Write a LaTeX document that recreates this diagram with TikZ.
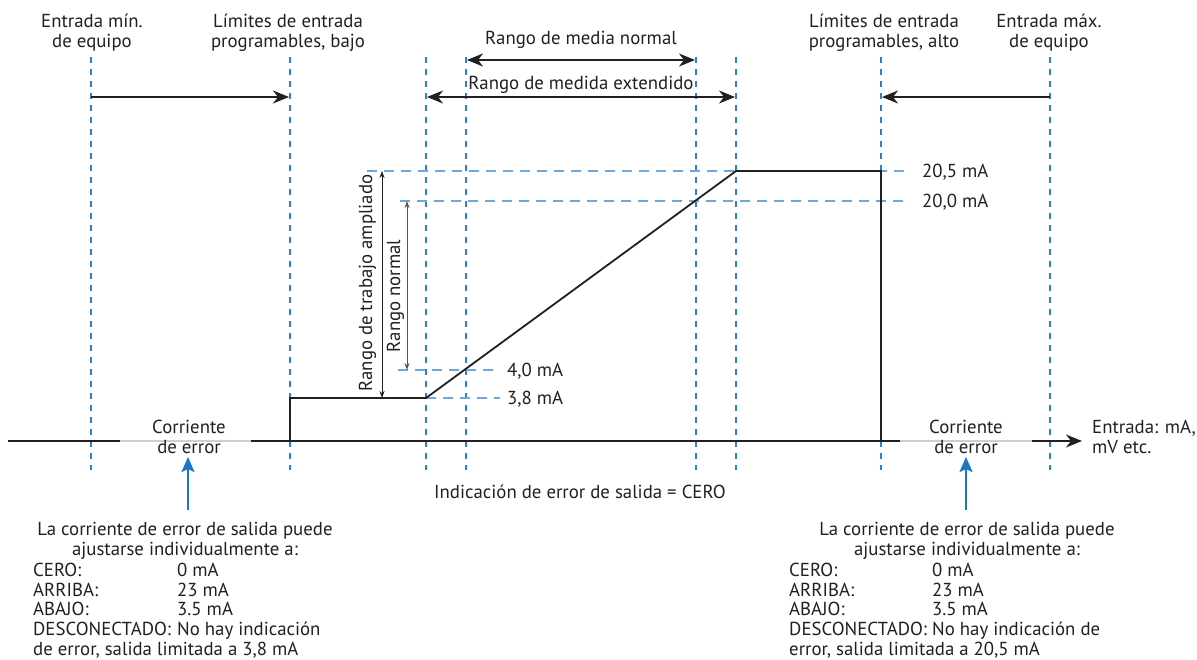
\documentclass[tikz,border=0pt]{standalone}
\usepackage{fontspec}
\setmainfont{PT Sans}
\usetikzlibrary{arrows.meta}
\definecolor{ink}{HTML}{231F20}
\definecolor{vblue}{HTML}{2B83CC}
\definecolor{hblue}{HTML}{6EA8DB}
\definecolor{ablue}{HTML}{1A78C2}
\definecolor{errgray}{HTML}{CFCFCF}
\definecolor{midgray}{HTML}{555555}
\begin{document}
\begin{tikzpicture}[x=1pt,y=-1pt,
  font=\fontsize{18.8}{19.6}\selectfont,
  lbl/.style={inner sep=0pt, text=ink},
  vguide/.style={vblue, line width=1.3pt, dash pattern=on 6pt off 6pt},
  hguide/.style={hblue, line width=1.6pt, dash pattern=on 10pt off 7pt},
  curve/.style={ink, line width=1.8pt, line join=miter},
  axisline/.style={ink, line width=1.8pt},
  errline/.style={errgray, line width=2pt},
  bigarrow/.style={ink, line width=1.8pt, -{Stealth[length=16pt,width=13pt,inset=5pt]}},
  dblarrow/.style={ink, line width=1.8pt, {Stealth[length=16pt,width=13pt,inset=5pt]}-{Stealth[length=16pt,width=13pt,inset=5pt]}},
  thinarrow/.style={line width=0.9pt, {Stealth[length=7pt,width=5pt]}-{Stealth[length=7pt,width=5pt]}},
  bluearrow/.style={ablue, line width=2pt, -{Stealth[length=15pt,width=13pt,inset=3pt]}},
]
\useasboundingbox (0,0) rectangle (1197,659);

% vertical guides
\foreach \n/\x in {a/91,b/290,c/426,d/466,e/696,f/736,g/881,h/1050}{
  \coordinate (\n t) at (\x,57);
  \coordinate (\n b) at (\x,470);
  \draw[vguide] (\n t) -- (\n b);
}

% horizontal guides
\coordinate (h205a) at (367,171); \coordinate (h205b) at (910,171);
\coordinate (h200a) at (400,201); \coordinate (h200b) at (910,201);
\coordinate (h40a) at (398,370);  \coordinate (h40b) at (500,370);
\coordinate (h38a) at (426,398);  \coordinate (h38b) at (500,398);
\draw[hguide] (h205a) -- (h205b);
\draw[hguide] (h200a) -- (h200b);
\draw[hguide] (h40a) -- (h40b);
\draw[hguide] (h38a) -- (h38b);

\node[lbl, anchor=base west] (l205) at (922,177) {20,5 mA};
\node[lbl, anchor=base west] (l200) at (922,207) {20,0 mA};
\node[lbl, anchor=base west] (l40) at (507,376) {4,0 mA};
\node[lbl, anchor=base west] (l38) at (507,404) {3,8 mA};

% axis
\coordinate (x0) at (8,441);
\coordinate (x1) at (120,441);
\coordinate (x2) at (251,441);
\coordinate (x3) at (900,441);
\coordinate (x4) at (1032,441);
\coordinate (x5) at (1082,441);
\draw[axisline] (x0) -- (x1);
\draw[errline] (x1) -- (x2);
\draw[axisline] (x2) -- (x3);
\draw[errline] (x3) -- (x4);
\draw[axisline, -{Stealth[length=16pt,width=13pt,inset=5pt]}] (x4) -- (x5);

% output curve
\coordinate (p1) at (290,441);
\coordinate (p2) at (290,398);
\coordinate (p3) at (426,398);
\coordinate (p4) at (736,171);
\coordinate (p5) at (881,171);
\coordinate (p6) at (881,441);
\draw[curve] (p1) -- (p2) -- (p3) -- (p4) -- (p5) -- (p6);

% top arrows
\coordinate (ta1) at (91,97);  \coordinate (ta2) at (289,97);
\coordinate (tb1) at (1050,97); \coordinate (tb2) at (882,97);
\coordinate (tc1) at (427,97); \coordinate (tc2) at (735,97);
\coordinate (td1) at (467,60); \coordinate (td2) at (695,60);
\draw[bigarrow] (ta1) -- (ta2);
\draw[bigarrow] (tb1) -- (tb2);
\draw[dblarrow] (tc1) -- (tc2);
\draw[dblarrow] (td1) -- (td2);

\node[lbl, anchor=base] (rmn) at (581,44) {Rango de media normal};
\node[lbl, anchor=base] (rme) at (581,89) {Rango de medida extendido};

% top labels (base = last line)
\node[lbl, align=center, anchor=base] (emin) at (92,47) {Entrada mín.\\de equipo};
\node[lbl, align=center, anchor=base] (llow) at (288,47) {Límites de entrada\\programables, bajo};
\node[lbl, align=center, anchor=base] (lhigh) at (884,47) {Límites de entrada\\programables, alto};
\node[lbl, align=center, anchor=base] (emax) at (1049,47) {Entrada máx.\\de equipo};

% vertical range arrows
\coordinate (va1) at (382,171); \coordinate (va2) at (382,398);
\coordinate (vb1) at (407,201); \coordinate (vb2) at (407,370);
\draw[thinarrow, ink] (va1) -- (va2);
\draw[thinarrow, midgray] (vb1) -- (vb2);
\node[lbl, rotate=90, anchor=base] (rta) at (372,283) {Rango de trabajo ampliado};
\node[lbl, rotate=90, anchor=base] (rno) at (400,296) {Rango normal};

% error current labels
\node[lbl, align=center, anchor=base] (cel) at (189,453) {Corriente\\de error};
\node[lbl, align=center, anchor=base] (cer) at (966,453) {Corriente\\de error};
\node[lbl, align=left, anchor=base west] (ent) at (1092,453) {Entrada: mA,\\mV etc.};

\node[lbl, anchor=base] (ind) at (580,498) {Indicación de error de salida = CERO};

% blue arrows
\coordinate (bl1) at (188,510); \coordinate (bl2) at (188,457);
\coordinate (br1) at (966,510); \coordinate (br2) at (966,457);
\draw[bluearrow] (bl1) -- (bl2);
\draw[bluearrow] (br1) -- (br2);

% bottom text blocks
\node[lbl, align=center, anchor=base] (hl) at (185,555) {La corriente de error de salida puede\\ajustarse individualmente a:};
\node[lbl, anchor=base west] (tl) at (33,655) {%
\begin{tabular}[b]{@{}p{144pt}@{}l@{}}
CERO: & 0 mA\\
ARRIBA: & 23 mA\\
ABAJO: & 3.5 mA\\
DESCONECTADO: & No hay indicación\\
\multicolumn{2}{@{}l@{}}{de error, salida limitada a 3,8 mA}
\end{tabular}};

\node[lbl, align=center, anchor=base] (hr) at (967,555) {La corriente de error de salida puede\\ajustarse individualmente a:};
\node[lbl, anchor=base west] (tr) at (789,655) {%
\begin{tabular}[b]{@{}p{143pt}@{}l@{}}
CERO: & 0 mA\\
ARRIBA: & 23 mA\\
ABAJO: & 3.5 mA\\
DESCONECTADO: & No hay indicación de\\
\multicolumn{2}{@{}l@{}}{error, salida limitada a 20,5 mA}
\end{tabular}};
\end{tikzpicture}
\end{document}
